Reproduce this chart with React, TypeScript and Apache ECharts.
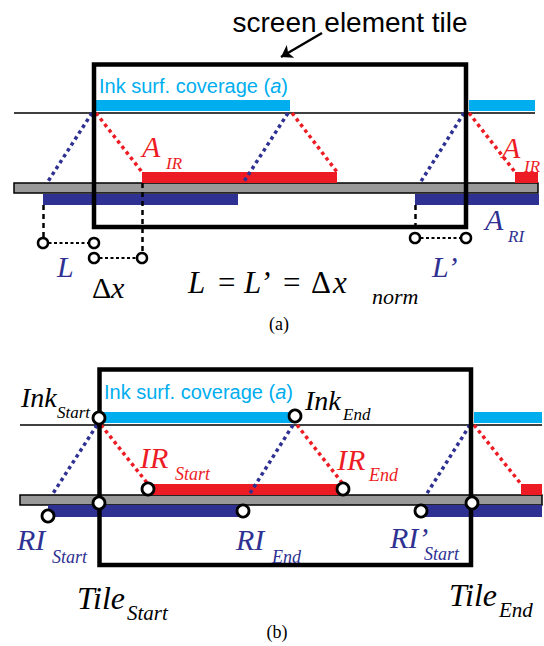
import React, { useEffect, useRef } from "react";
import * as echarts from "echarts";

const W = 544;
const H = 646;

// Diagram geometry in diagram units (x: 0..544, y: 0..646, y downward)
const cyanBars = [
  [96, 100, 290, 111], [469, 100, 535, 111],
  [100, 412, 295, 423], [474, 412, 542, 423],
];
const grayBars = [
  [14, 183, 538, 193],
  [20, 495, 542, 505],
];
const redBars = [
  [142, 172, 337, 183], [515, 172, 538, 183],
  [148, 484, 343, 495], [521, 484, 542, 495],
];
const blueBars = [
  [43, 194, 238, 205], [415, 194, 539, 205],
  [48, 505, 243, 517], [421, 505, 542, 517],
];
const tileBoxes = [
  [94, 64.5, 466, 227],
  [99.5, 369.5, 471, 565],
];
const surfaceLines = [
  [[14, 113], [535, 113]],
  [[20, 425], [542, 425]],
];
const blueDots = [
  [[92, 113], [47, 183]], [[288, 113], [243, 183]], [[464, 113], [420, 183]],
  [[97, 425], [52, 495]], [[293, 425], [249, 495]], [[470, 425], [426, 495]],
];
const redDots = [
  [[96, 113], [142, 172]], [[292, 113], [337, 172]], [[469, 113], [515, 172]],
  [[101, 425], [148, 484]], [[297, 425], [343, 484]], [[474, 425], [521, 484]],
];
const guideVerticals = [
  [[43, 205], [43, 238]], [[142, 183], [142, 253]], [[415, 205], [415, 233]],
];
const guideHorizontals = [
  [[43, 243], [94, 243]], [[94, 258], [142, 258]], [[415, 238], [466, 238]],
];
const arrowLine = [[[322, 33], [281, 57]]];
const circlesA = [[43, 243], [94, 243], [94, 258], [142, 258], [415, 238], [466, 238]];
const circlesB = [
  [99, 418], [295, 416], [148, 489], [343, 489], [99, 503], [472, 503],
  [48, 516], [243, 511], [421, 511],
];

const CYAN = "#00AEEF";
const RED = "#ED1C24";
const BLUE = "#2E3192";
const GRAY = "#999999";
const SERIF = "Liberation Serif, Times New Roman, serif";
const SANS = "Liberation Sans, Arial, sans-serif";

function rectSeries(data: number[][], style: any, z: number) {
  return {
    type: "custom",
    coordinateSystem: "cartesian2d",
    data,
    z,
    silent: true,
    renderItem: (_p: any, api: any) => {
      const a = api.coord([api.value(0), api.value(1)]);
      const b = api.coord([api.value(2), api.value(3)]);
      return {
        type: "rect",
        shape: { x: a[0], y: a[1], width: b[0] - a[0], height: b[1] - a[1] },
        style: { ...style },
      };
    },
  };
}

function segSeries(data: number[][][], lineStyle: any, z: number, extra: any = {}) {
  return {
    type: "lines",
    coordinateSystem: "cartesian2d",
    data: data.map((c) => ({ coords: c })),
    lineStyle: { opacity: 1, ...lineStyle },
    z,
    silent: true,
    symbol: "none",
    ...extra,
  };
}

function txt(
  x: number,
  base: number,
  text: string,
  size: number,
  color: string,
  opts: any = {}
) {
  return {
    type: "text",
    x,
    y: base - size * 0.34,
    z: 100,
    silent: true,
    style: {
      text,
      fill: color,
      fontSize: size,
      fontFamily: opts.family || SERIF,
      fontStyle: opts.italic === false ? "normal" : "italic",
      align: opts.align || "left",
      verticalAlign: "middle",
      rich: opts.rich,
    },
  };
}

export default function App() {
  const ref = useRef<HTMLDivElement>(null);
  useEffect(() => {
    if (!ref.current) return;
    const chart = echarts.init(ref.current, undefined, { renderer: "svg" });
    const italicRich = {
      i: { fontStyle: "italic", fontFamily: SANS, fontSize: 20, fill: CYAN },
    };
    const graphics = [
      txt(350, 32, "screen element tile", 28, "#000", { family: SANS, italic: false, align: "center" }),
      txt(99, 93, "Ink surf. coverage ({i|a})", 20, CYAN, { family: SANS, italic: false, rich: italicRich }),
      txt(142, 157, "A", 30, RED),
      txt(166, 169, "IR", 17, RED),
      txt(502, 158, "A", 30, RED),
      txt(524, 172, "IR", 17, RED),
      txt(485, 230, "A", 30, BLUE),
      txt(508, 242, "RI", 17, BLUE),
      txt(57, 277, "L", 30, BLUE),
      txt(432, 277, "L’", 30, BLUE),
      txt(92, 298, "Δ", 30, "#000", { italic: false }),
      txt(111, 298, "x", 30, "#000"),
      txt(188, 293, "L", 31, "#000"),
      txt(218, 293, "=", 31, "#000", { italic: false }),
      txt(244, 293, "L’", 31, "#000"),
      txt(283, 293, "=", 31, "#000", { italic: false }),
      txt(311, 293, "Δ", 31, "#000", { italic: false }),
      txt(333, 293, "x", 31, "#000"),
      txt(372, 304, "norm", 22, "#000"),
      txt(279, 330, "(a)", 18, "#000", { italic: false, align: "center" }),

      txt(104, 399, "Ink surf. coverage ({i|a})", 20, CYAN, { family: SANS, italic: false, rich: italicRich }),
      txt(21, 407, "Ink", 28, "#000"),
      txt(57, 418, "Start", 17, "#000"),
      txt(305, 410, "Ink", 28, "#000"),
      txt(343, 420, "End", 17, "#000"),
      txt(140, 468, "IR", 30, RED),
      txt(175, 480, "Start", 18, RED),
      txt(337, 470, "IR", 30, RED),
      txt(369, 481, "End", 18, RED),
      txt(17, 550, "RI", 30, BLUE),
      txt(52, 563, "Start", 18, BLUE),
      txt(236, 550, "RI", 30, BLUE),
      txt(272, 563, "End", 18, BLUE),
      txt(390, 548, "RI’", 30, BLUE),
      txt(424, 560, "Start", 18, BLUE),
      txt(77, 609, "Tile", 32, "#000"),
      txt(127, 620, "Start", 21, "#000"),
      txt(449, 606, "Tile", 32, "#000"),
      txt(499, 617, "End", 21, "#000"),
      txt(277, 638, "(b)", 18, "#000", { italic: false, align: "center" }),
    ];

    chart.setOption({
      animation: false,
      backgroundColor: "#ffffff",
      grid: { left: 0, right: 0, top: 0, bottom: 0 },
      xAxis: { type: "value", min: 0, max: W, show: false },
      yAxis: { type: "value", min: 0, max: H, inverse: true, show: false },
      series: [
        segSeries(surfaceLines, { color: "#000", width: 1.5, type: "solid" }, 1),
        rectSeries(cyanBars, { fill: CYAN }, 2),
        rectSeries(grayBars, { fill: GRAY, stroke: "#000", lineWidth: 1.5 }, 2),
        rectSeries(redBars, { fill: RED }, 2),
        rectSeries(blueBars, { fill: BLUE }, 2),
        segSeries(blueDots, { color: BLUE, width: 3.5, type: [3.5, 3.5] }, 3),
        segSeries(redDots, { color: RED, width: 3.5, type: [3.5, 3.5] }, 3),
        segSeries(guideVerticals, { color: "#000", width: 2.5, type: [5, 4] }, 3),
        segSeries(guideHorizontals, { color: "#000", width: 2, type: [3, 2.5] }, 3),
        rectSeries(tileBoxes, { fill: "none", stroke: "#000", lineWidth: 4.5 }, 4),
        segSeries(arrowLine, { color: "#000", width: 2.5, type: "solid" }, 4, {
          symbol: ["none", "arrow"],
          symbolSize: 11,
        }),
        {
          type: "scatter",
          data: circlesA,
          symbol: "circle",
          symbolSize: 10,
          itemStyle: { color: "#fff", borderColor: "#000", borderWidth: 2.5, opacity: 1 },
          z: 6,
          silent: true,
        },
        {
          type: "scatter",
          data: circlesB,
          symbol: "circle",
          symbolSize: 12,
          itemStyle: { color: "#fff", borderColor: "#000", borderWidth: 2.8, opacity: 1 },
          z: 6,
          silent: true,
        },
      ],
      graphic: { elements: graphics },
    });
    return () => chart.dispose();
  }, []);
  return (
    <div
      ref={ref}
      style={{ position: "fixed", left: 0, top: 0, width: W, height: H }}
    />
  );
}
